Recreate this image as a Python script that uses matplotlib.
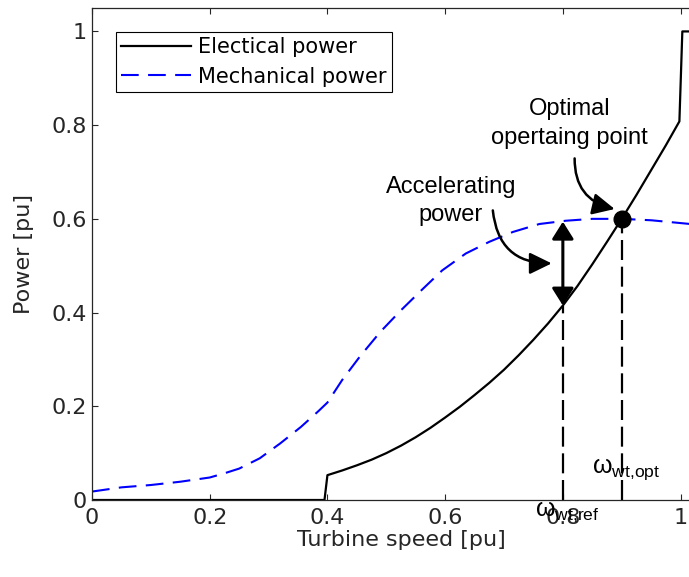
import numpy as np
import matplotlib
matplotlib.use('Agg')
import matplotlib.pyplot as plt

# 读取的数据（从原图估计）
speed_elec = [0.0, 0.395, 0.4, 0.425, 0.45, 0.475, 0.5, 0.525, 0.55, 0.575, 0.6, 0.625, 0.65, 0.675, 0.7,
              0.725, 0.75, 0.775, 0.8, 0.825, 0.85, 0.875, 0.9, 0.925, 0.95, 0.975, 0.998, 1.003, 1.05]
power_elec = [0.0, 0.0, 0.053, 0.063, 0.074, 0.086, 0.100, 0.116, 0.134, 0.154, 0.176, 0.199, 0.224, 0.250, 0.278,
              0.309, 0.342, 0.377, 0.415, 0.457, 0.503, 0.551, 0.600, 0.651, 0.704, 0.757, 0.808, 1.0, 1.0]

speed_mech = [0.0, 0.05, 0.1, 0.15, 0.2, 0.225, 0.25, 0.285, 0.32, 0.355, 0.385, 0.4, 0.425, 0.455, 0.49, 0.525, 0.56,
              0.595, 0.635, 0.675, 0.715, 0.76, 0.805, 0.85, 0.9, 0.95, 1.0, 1.05]
power_mech = [0.018, 0.027, 0.032, 0.039, 0.048, 0.057, 0.067, 0.089, 0.121, 0.156, 0.190, 0.208, 0.256, 0.306, 0.359, 0.405, 0.448,
              0.490, 0.526, 0.551, 0.572, 0.589, 0.596, 0.600, 0.600, 0.597, 0.591, 0.585]

w_ref = 0.8
w_opt = 0.9
p_ref = 0.415
p_ref_mech = 0.594
p_opt = 0.6

xticks = [0, 0.2, 0.4, 0.6, 0.8, 1]
yticks = [0, 0.2, 0.4, 0.6, 0.8, 1]
tick_labels = ['0', '0.2', '0.4', '0.6', '0.8', '1']

plt.rcParams['mathtext.fontset'] = 'custom'
plt.rcParams['mathtext.rm'] = 'Liberation Sans'
plt.rcParams['mathtext.it'] = 'Liberation Sans:italic'

fig = plt.figure(figsize=(6.89, 5.77), dpi=100)
ax = fig.add_axes([92 / 689, 1 - 500 / 577, 618 / 689, 492 / 577])

grey = '#262626'

ax.plot(speed_elec, power_elec, color='k', lw=1.6, label='Electical power')
ax.plot(speed_mech, power_mech, color='#0000ff', lw=1.5, dashes=(8.5, 4.5), label='Mechanical power')

# 竖直虚线
ax.plot([w_ref, w_ref], [0, p_ref], color='k', lw=1.6, dashes=(9, 3))
ax.plot([w_opt, w_opt], [0, p_opt], color='k', lw=1.6, dashes=(9, 3))

# 双向箭头
ax.annotate('', xy=(w_ref, p_ref_mech), xytext=(w_ref, p_ref),
            arrowprops=dict(arrowstyle='<|-|>,head_length=0.35,head_width=0.22', lw=2.2,
                            color='k', mutation_scale=30, shrinkA=0, shrinkB=0))

ax.plot([w_opt], [p_opt], 'o', color='k', markersize=12)

tfont = dict(family='Liberation Sans', fontsize=17, color='k')
ax.text(0.8115, 0.804, 'Optimal\nopertaing point', ha='center', va='center', linespacing=1.4, **tfont)
ax.text(0.61, 0.638, 'Accelerating\npower', ha='center', va='center', linespacing=1.35, **tfont)

# 弯曲箭头
ax.annotate('', xy=(0.888, 0.621), xytext=(0.82, 0.729),
            arrowprops=dict(arrowstyle='-|>,head_length=0.45,head_width=0.22', lw=1.8, color='k',
                            mutation_scale=30, shrinkA=0, shrinkB=0,
                            connectionstyle='arc3,rad=0.4'))
ax.annotate('', xy=(0.781, 0.505), xytext=(0.681, 0.618),
            arrowprops=dict(arrowstyle='-|>,head_length=0.45,head_width=0.22', lw=1.8, color='k',
                            mutation_scale=30, shrinkA=0, shrinkB=0,
                            connectionstyle='arc3,rad=0.45'))

ax.text(0.849, 0.058, r'$\mathrm{ω}_{\mathrm{wt{,}opt}}$', fontsize=18, ha='left', va='baseline', color='k')
ax.text(0.752, -0.033, r'$\mathrm{ω}_{\mathrm{wt{,}ref}}$', fontsize=18, ha='left', va='baseline', color='k',
        clip_on=False, zorder=5)

ax.set_xlim(0, 1.05)
ax.set_ylim(0, 1.05)
ax.set_xticks(xticks)
ax.set_xticklabels(tick_labels)
ax.set_yticks(yticks)
ax.set_yticklabels(tick_labels)
ax.tick_params(direction='in', length=4, width=0.8, top=True, right=True,
               labelsize=16, colors=grey, pad=6)
ax.tick_params(axis='y', pad=4)
for s in ax.spines.values():
    s.set_color(grey)
    s.set_linewidth(0.9)

ax.set_xlabel('Turbine speed [pu]', fontsize=16, color=grey, labelpad=1)
ax.set_ylabel('Power [pu]', fontsize=16, color=grey, labelpad=12)

leg = ax.legend(loc='upper left', bbox_to_anchor=(0.039, 0.951), borderaxespad=0,
                fontsize=15, fancybox=False, edgecolor='k', framealpha=1,
                handlelength=3.35, handletextpad=0.33, borderpad=0.25, labelspacing=0.45)
leg.get_frame().set_linewidth(0.8)

plt.savefig('out.png', dpi=100)
